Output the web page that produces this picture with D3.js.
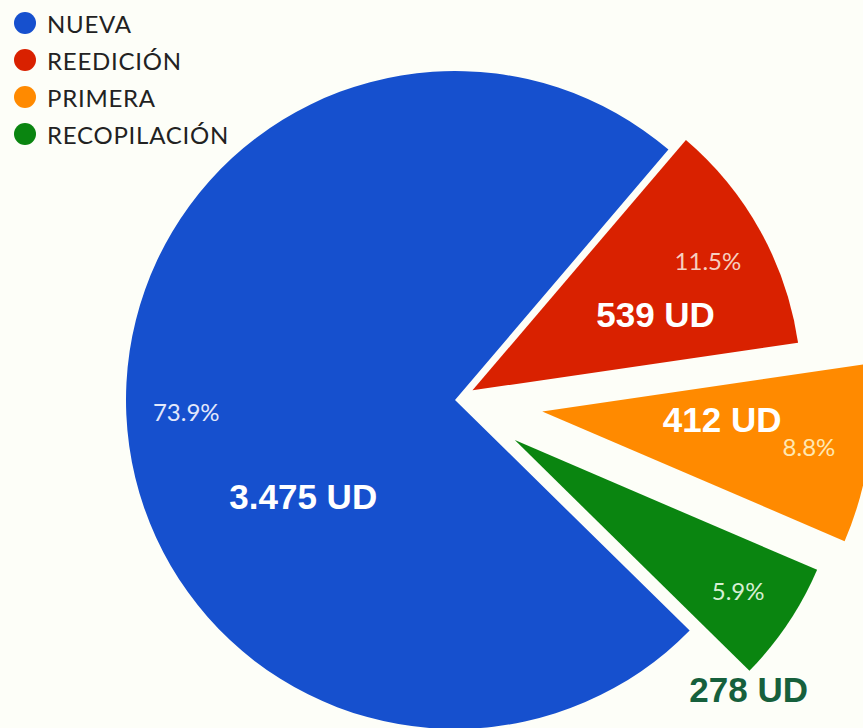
<!DOCTYPE html>
<html lang="es">
<head>
    <meta charset="UTF-8">
    <title>Ediciones</title>
    <style>
        html, body {
            margin: 0;
            padding: 0;
            background: #fdfef8;
            overflow: hidden;
        }
    </style>
</head>
<body>
    <div id="chart"></div>

    <script src="https://d3js.org/d3.v7.min.js"></script>
    <script>
        // datos
        const categories = ['NUEVA', 'REEDICIÓN', 'PRIMERA', 'RECOPILACIÓN']
        const units = [3475, 539, 412, 278]
        const colors = ['#1650ce', '#d92100', '#ff8a00', '#0a8510']
        const pctColors = ['#e3e8fb', '#f6cfc0', '#ffe7b0', '#d6efd4']
        const valueColors = ['#ffffff', '#ffffff', '#ffffff', '#16603c']

        // desplazamiento de cada porción (px)
        const explode = [0, 20, 88, 72]
        // posición de la etiqueta de unidades: radio y giro respecto al centro de la porción (grados)
        const valueLabelR = [180, 198, 180, 342]
        const valueLabelTurn = [-30, 6.5, -5, 13]

        const width = 863
        const height = 728
        const cx = 455
        const cy = 400
        const radius = 329
        const startDeg = 134.5

        const fmt = d3.formatLocale({ decimal: ',', thousands: '.', grouping: [3], currency: ['', '€'] }).format(',d')
        const total = d3.sum(units)

        const data = categories.map((c, i) => ({ name: c, value: units[i], i }))

        const pie = d3.pie()
            .sort(null)
            .value(d => d.value)
            .startAngle(startDeg * Math.PI / 180)
            .endAngle(startDeg * Math.PI / 180 + 2 * Math.PI)

        const arc = d3.arc().innerRadius(0).outerRadius(radius)

        const svg = d3.select('#chart')
            .append('svg')
            .attr('width', width)
            .attr('height', height)

        const g = svg.append('g')
            .attr('transform', `translate(${cx}, ${cy})`)

        const arcs = pie(data)

        function polar(r, a) {
            return [r * Math.sin(a), -r * Math.cos(a)]
        }

        const slices = g.selectAll('g.slice')
            .data(arcs)
            .join('g')
            .attr('class', 'slice')
            .attr('transform', d => {
                const mid = (d.startAngle + d.endAngle) / 2
                const [x, y] = polar(explode[d.data.i], mid)
                return `translate(${x}, ${y})`
            })

        slices.append('path')
            .attr('d', arc)
            .attr('fill', d => colors[d.data.i])

        // porcentajes
        slices.append('text')
            .attr('transform', d => {
                const mid = (d.startAngle + d.endAngle) / 2
                const [x, y] = polar(269, mid)
                return `translate(${x}, ${y})`
            })
            .attr('text-anchor', 'middle')
            .attr('dominant-baseline', 'central')
            .style('font-family', 'Lato, "Noto Sans", sans-serif')
            .style('font-weight', 400)
            .style('font-size', '24px')
            .attr('fill', d => pctColors[d.data.i])
            .text(d => (d.data.value / total * 100).toFixed(1) + '%')

        // unidades
        slices.append('text')
            .attr('transform', d => {
                const i = d.data.i
                const mid = (d.startAngle + d.endAngle) / 2 + valueLabelTurn[i] * Math.PI / 180
                const [x, y] = polar(valueLabelR[i], mid)
                return `translate(${x}, ${y})`
            })
            .attr('text-anchor', 'middle')
            .attr('dominant-baseline', 'central')
            .style('font-family', '"Liberation Sans", Arial, sans-serif')
            .style('font-weight', 700)
            .style('font-size', '35px')
            .attr('fill', d => valueColors[d.data.i])
            .text(d => fmt(d.data.value) + ' UD')

        // leyenda
        const legend = svg.append('g')
            .attr('transform', 'translate(25, 23)')

        const items = legend.selectAll('g')
            .data(categories)
            .join('g')
            .attr('transform', (d, i) => `translate(0, ${i * 37})`)

        items.append('circle')
            .attr('r', 11)
            .attr('fill', (d, i) => colors[i])

        items.append('text')
            .attr('x', 22)
            .attr('dominant-baseline', 'central')
            .style('font-family', 'Lato, "Noto Sans", sans-serif')
            .style('font-size', '24px')
            .style('letter-spacing', '0.75px')
            .attr('fill', '#222')
            .text(d => d)
    </script>
</body>
</html>
